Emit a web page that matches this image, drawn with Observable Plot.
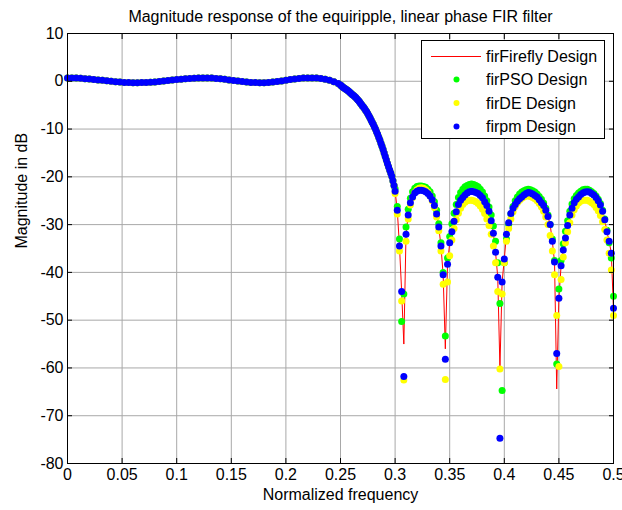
<!DOCTYPE html>
<html><head><meta charset="utf-8">
<script src="https://cdn.jsdelivr.net/npm/d3@7"></script>
<script src="https://cdn.jsdelivr.net/npm/@observablehq/plot@0.6"></script>
<style>
html,body{margin:0;padding:0;background:#fff;}
#chart{position:relative;width:622px;height:510px;}
</style></head><body><div id="chart"></div>
<script>
// ---------- texts ----------
const titleText = "Magnitude response of the equiripple, linear phase FIR filter";
const xLabel = "Normalized frequency";
const yLabel = "Magnitude in dB";
const seriesNames = ["firFirefly Design", "firPSO Design", "firDE Design", "firpm Design"];

// ---------- ticks ----------
const xTicks = [0, 0.05, 0.1, 0.15, 0.2, 0.25, 0.3, 0.35, 0.4, 0.45, 0.5];
const yTicks = [-80, -70, -60, -50, -40, -30, -20, -10, 0, 10];

// ---------- passband + transition (identical for all four designs) ----------
const commonFreq = [
  0, 0.004, 0.008, 0.012, 0.016, 0.020, 0.024, 0.028, 0.032, 0.036,
  0.040, 0.044, 0.048, 0.052, 0.056, 0.060, 0.064, 0.068, 0.072, 0.076,
  0.080, 0.084, 0.088, 0.092, 0.096, 0.100, 0.104, 0.108, 0.112, 0.116,
  0.120, 0.124, 0.128, 0.132, 0.136, 0.140, 0.144, 0.148, 0.152, 0.156,
  0.160, 0.164, 0.168, 0.172, 0.176, 0.180, 0.184, 0.188, 0.192, 0.196,
  0.200, 0.204, 0.208, 0.212, 0.216, 0.220, 0.224, 0.228, 0.232, 0.236,
  0.240, 0.244, 0.248,
  0.250, 0.251, 0.252, 0.253, 0.254, 0.255, 0.256, 0.257, 0.258, 0.259,
  0.260, 0.261, 0.262, 0.263, 0.264, 0.265, 0.266, 0.267, 0.268, 0.269,
  0.270, 0.271, 0.272, 0.273, 0.274, 0.275, 0.276, 0.277, 0.278, 0.279,
  0.280, 0.281, 0.282, 0.283, 0.284, 0.285, 0.286, 0.287, 0.288, 0.289,
  0.290, 0.291, 0.292, 0.293, 0.294, 0.295, 0.296, 0.297, 0.298, 0.299
];
const commonGain = [
  0.70, 0.69, 0.66, 0.61, 0.55, 0.47, 0.38, 0.29, 0.19, 0.09,
  -0.01, -0.09, -0.17, -0.23, -0.27, -0.29, -0.30, -0.28, -0.25, -0.20,
  -0.13, -0.04, 0.05, 0.15, 0.25, 0.35, 0.44, 0.53, 0.60, 0.65,
  0.68, 0.70, 0.69, 0.66, 0.59, 0.51, 0.41, 0.29, 0.17, 0.05,
  -0.06, -0.15, -0.23, -0.28, -0.30, -0.29, -0.24, -0.16, -0.05, 0.08,
  0.22, 0.36, 0.49, 0.60, 0.67, 0.71, 0.71, 0.66, 0.56, 0.41,
  0.20, -0.10, -0.45,
  -0.8, -1.0, -1.2, -1.35, -1.5, -1.65, -1.8, -2.0, -2.2, -2.4,
  -2.6, -2.8, -3.0, -3.2, -3.4, -3.65, -3.9, -4.2, -4.5, -4.8,
  -5.1, -5.4, -5.7, -6.05, -6.4, -6.8, -7.2, -7.65, -8.1, -8.55,
  -9.0, -9.5, -10.0, -10.55, -11.1, -11.7, -12.3, -12.95, -13.6, -14.3,
  -15.0, -15.75, -16.5, -17.2, -17.9, -18.55, -19.2, -19.9, -20.8, -21.8
];

// ---------- stopband (each design) ----------
const stopFreq = [
  0.300, 0.302, 0.304, 0.306, 0.308, 0.310, 0.312, 0.314, 0.316, 0.318,
  0.320, 0.322, 0.324, 0.326, 0.328, 0.330, 0.332, 0.334, 0.336, 0.338,
  0.340, 0.342, 0.344, 0.346, 0.348, 0.350, 0.352, 0.354, 0.356, 0.358,
  0.360, 0.362, 0.364, 0.366, 0.368, 0.370, 0.372, 0.374, 0.376, 0.378,
  0.380, 0.382, 0.384, 0.386, 0.388, 0.390, 0.392, 0.394, 0.396, 0.398,
  0.400, 0.402, 0.404, 0.406, 0.408, 0.410, 0.412, 0.414, 0.416, 0.418,
  0.420, 0.422, 0.424, 0.426, 0.428, 0.430, 0.432, 0.434, 0.436, 0.438,
  0.440, 0.442, 0.444, 0.446, 0.448, 0.450, 0.452, 0.454, 0.456, 0.458,
  0.460, 0.462, 0.464, 0.466, 0.468, 0.470, 0.472, 0.474, 0.476, 0.478,
  0.480, 0.482, 0.484, 0.486, 0.488, 0.490, 0.492, 0.494, 0.496, 0.498,
  0.500
];
const fireflyStop = [
  -23.0, -27.0, -34.5, -44.0, -55.0, -32.0, -28.0, -25.4, -24.2, -23.4,
  -23.0, -22.8, -22.8, -22.9, -23.1, -23.5, -24.0, -24.8, -26.0, -27.8,
  -30.5, -34.5, -40.5, -56.0, -38.3, -33.8, -31.5, -29.3, -27.3, -25.8,
  -24.9, -24.3, -23.8, -23.4, -23.1, -23.0, -23.1, -23.3, -23.5, -23.9,
  -24.4, -25.2, -26.0, -27.2, -29.2, -31.8, -35.8, -41.0, -60.0, -42.0,
  -37.2, -32.0, -29.6, -27.7, -26.6, -25.8, -25.1, -24.6, -24.2, -23.8,
  -23.5, -23.3, -23.4, -23.6, -23.9, -24.2, -24.8, -25.4, -26.0, -27.0,
  -28.3, -30.0, -33.5, -37.8, -64.4, -45.4, -38.6, -35.3, -32.8, -30.2,
  -28.0, -26.6, -25.4, -24.7, -24.2, -23.7, -23.4, -23.2, -23.1, -23.2,
  -23.5, -23.8, -24.3, -25.0, -25.9, -27.2, -29.0, -31.5, -33.5, -36.0,
  -48.0
];
const psoStop = [
  -22.5, -26.2, -33.0, -50.3, -44.5, -30.5, -26.8, -24.5, -23.1, -22.4,
  -22.0, -21.9, -21.9, -22.0, -22.2, -22.6, -23.1, -24.0, -25.2, -27.0,
  -29.8, -33.8, -40.0, -53.3, -37.0, -32.5, -29.8, -27.6, -25.8, -24.3,
  -23.3, -22.6, -22.1, -21.8, -21.6, -21.5, -21.6, -21.8, -22.1, -22.6,
  -23.2, -24.0, -25.0, -26.3, -28.0, -30.3, -33.5, -38.0, -46.5, -64.7,
  -38.0, -33.0, -30.0, -27.8, -26.2, -25.0, -24.2, -23.6, -23.2, -22.9,
  -22.7, -22.6, -22.7, -22.9, -23.2, -23.6, -24.1, -24.7, -25.5, -26.6,
  -28.0, -30.0, -33.0, -37.5, -59.2, -43.5, -37.5, -34.0, -31.4, -29.2,
  -27.2, -25.7, -24.6, -23.9, -23.4, -23.0, -22.7, -22.6, -22.6, -22.8,
  -23.1, -23.5, -24.0, -24.7, -25.6, -27.0, -28.8, -31.2, -33.8, -37.0,
  -45.0
];
const deStop = [
  -23.5, -27.8, -35.5, -46.0, -62.5, -33.5, -28.8, -25.9, -24.3, -23.3,
  -22.7, -22.4, -22.3, -22.4, -22.7, -23.2, -24.0, -25.0, -26.4, -28.4,
  -31.3, -35.5, -42.5, -62.4, -42.0, -36.5, -33.2, -30.8, -29.0, -27.6,
  -26.6, -25.8, -25.3, -25.0, -24.9, -24.9, -25.0, -25.2, -25.6, -26.1,
  -26.8, -27.7, -28.8, -30.2, -32.0, -34.5, -38.0, -44.0, -60.2, -44.5,
  -38.0, -33.5, -30.8, -28.8, -27.3, -26.2, -25.4, -24.9, -24.5, -24.2,
  -24.0, -24.0, -24.1, -24.3, -24.6, -25.0, -25.6, -26.3, -27.2, -28.4,
  -30.0, -32.3, -35.5, -40.5, -49.0, -59.7, -41.5, -36.8, -33.8, -31.5,
  -29.6, -28.0, -26.9, -26.1, -25.5, -25.1, -24.9, -24.9, -24.9, -25.1,
  -25.4, -25.8, -26.4, -27.1, -28.1, -29.4, -31.0, -33.2, -36.0, -39.5,
  -49.0
];
const pmStop = [
  -23.0, -27.0, -34.5, -44.0, -61.8, -32.0, -28.0, -25.4, -24.2, -23.4,
  -23.0, -22.8, -22.8, -22.9, -23.1, -23.5, -24.0, -24.8, -26.0, -27.8,
  -30.5, -34.5, -40.5, -58.2, -38.3, -33.8, -31.5, -29.3, -27.3, -25.8,
  -24.9, -24.3, -23.8, -23.4, -23.1, -23.0, -23.1, -23.3, -23.5, -23.9,
  -24.4, -25.2, -26.0, -27.2, -29.2, -31.8, -35.8, -41.0, -74.7, -42.0,
  -37.2, -32.0, -29.6, -27.7, -26.6, -25.8, -25.1, -24.6, -24.2, -23.8,
  -23.5, -23.3, -23.4, -23.6, -23.9, -24.2, -24.8, -25.4, -26.0, -27.0,
  -28.3, -30.0, -33.5, -37.8, -57.0, -45.4, -38.6, -35.3, -32.8, -30.2,
  -28.0, -26.6, -25.4, -24.7, -24.2, -23.7, -23.4, -23.2, -23.1, -23.2,
  -23.5, -23.8, -24.3, -25.0, -25.9, -27.2, -29.0, -31.5, -33.5, -36.0,
  -47.5
];

// ---------- build tables ----------
function buildRows(stopVals) {
  const a = commonFreq.map((f, i) => ({f, v: commonGain[i]}));
  const b = stopFreq.map((f, i) => ({f, v: stopVals[i]}));
  return a.concat(b);
}
const fireflyRows = buildRows(fireflyStop);
const psoRows = buildRows(psoStop);
const deRows = buildRows(deStop);
const pmRows = buildRows(pmStop);

const colors = {firefly: "#ff0000", pso: "#00ff00", de: "#ffff00", pm: "#0000ff"};
const gridColor = "#a8a8a8";
const dotR = 3.5;
const font = "'Liberation Sans', Arial, Helvetica, sans-serif";

const chart = Plot.plot({
  width: 622,
  height: 510,
  marginLeft: 67,
  marginRight: 9,
  marginTop: 33,
  marginBottom: 47,
  style: {fontFamily: font, fontSize: "16px", background: "#fff", color: "#000"},
  x: {type: "linear", domain: [0, 0.5]},
  y: {type: "linear", domain: [-80, 10]},
  marks: [
    Plot.gridX(xTicks, {stroke: gridColor, strokeOpacity: 1, strokeWidth: 1}),
    Plot.gridY(yTicks, {stroke: gridColor, strokeOpacity: 1, strokeWidth: 1}),
    Plot.line(fireflyRows, {x: "f", y: "v", stroke: colors.firefly, strokeWidth: 1}),
    Plot.dot(psoRows, {x: "f", y: "v", r: dotR, fill: colors.pso}),
    Plot.dot(deRows, {x: "f", y: "v", r: dotR, fill: colors.de}),
    Plot.dot(pmRows, {x: "f", y: "v", r: dotR, fill: colors.pm}),
    Plot.frame({stroke: "#000", strokeWidth: 1}),
    Plot.axisX(xTicks, {anchor: "bottom", tickSize: -5, tickPadding: 10.5, tickFormat: d => String(d), label: null, fontSize: 16}),
    Plot.axisX(xTicks, {anchor: "top", tickSize: -5, tickFormat: () => "", label: null}),
    Plot.axisY(yTicks, {anchor: "left", tickSize: -5, tickPadding: 9, tickFormat: d => String(d), label: null, fontSize: 16}),
    Plot.axisY(yTicks, {anchor: "right", tickSize: -5, tickFormat: () => "", label: null}),
    Plot.text([titleText], {frameAnchor: "top", dy: -23, fontSize: 16, fill: "#000"}),
    Plot.text([xLabel], {frameAnchor: "bottom", dy: 36, fontSize: 16, fill: "#000"}),
    Plot.text([yLabel], {frameAnchor: "left", dx: -46, rotate: -90, fontSize: 16, fill: "#000"})
  ]
});
document.getElementById("chart").appendChild(chart);

// ---------- legend ----------
const svg = d3.select(chart);
const lg = svg.append("g").attr("font-family", font).attr("font-size", 16).attr("text-anchor", "start");
lg.append("rect").attr("x", 421.5).attr("y", 40.5).attr("width", 183).attr("height", 98)
  .attr("fill", "#fff").attr("stroke", "#000").attr("stroke-width", 1);
const rowY = [56.5, 79.5, 103, 126.5];
const legendColors = [colors.firefly, colors.pso, colors.de, colors.pm];
seriesNames.forEach((name, i) => {
  if (i === 0) {
    lg.append("line").attr("x1", 431).attr("x2", 481).attr("y1", rowY[i]).attr("y2", rowY[i])
      .attr("stroke", legendColors[i]).attr("stroke-width", 1);
  } else {
    lg.append("circle").attr("cx", 456.5).attr("cy", rowY[i]).attr("r", 3).attr("fill", legendColors[i]);
  }
  lg.append("text").attr("x", 486).attr("y", rowY[i]).attr("dy", "0.35em").attr("text-anchor", "start")
    .attr("fill", "#000").text(name);
});
</script>
</body></html>
